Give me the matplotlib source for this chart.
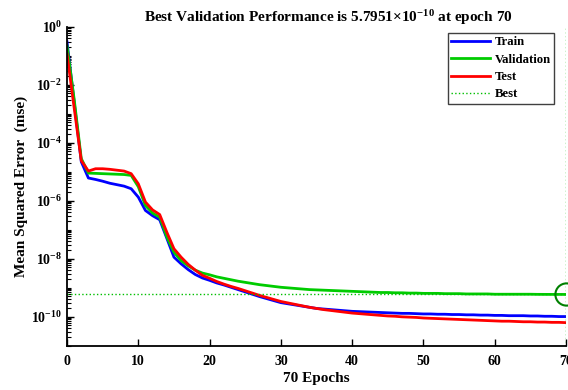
import numpy as np
import matplotlib
matplotlib.use("Agg")
import matplotlib.pyplot as plt
from matplotlib.ticker import LogLocator, FixedLocator, LogFormatterMathtext, NullFormatter

plt.rcParams['font.family'] = ['Liberation Serif', 'DejaVu Serif']
plt.rcParams['font.weight'] = 'bold'
plt.rcParams['mathtext.fontset'] = 'custom'
plt.rcParams['mathtext.rm'] = 'Liberation Serif:bold'
plt.rcParams['mathtext.bf'] = 'Liberation Serif:bold'
plt.rcParams['mathtext.it'] = 'Liberation Serif:bold:italic'

epochs = list(range(71))

train_log10 = [-0.52, -2.6, -4.66, -5.22, -5.27, -5.33, -5.4, -5.45, -5.5, -5.59,
               -5.88, -6.34, -6.52, -6.66, -7.3, -7.95, -8.18, -8.38, -8.55, -8.67,
               -8.75, -8.84, -8.91, -8.99, -9.07, -9.15, -9.23, -9.31, -9.38, -9.45,
               -9.52, -9.56, -9.60, -9.64, -9.68, -9.72, -9.74, -9.76, -9.78, -9.80,
               -9.82, -9.83, -9.84, -9.85, -9.86, -9.87, -9.88, -9.89, -9.89, -9.90,
               -9.91, -9.91, -9.92, -9.92, -9.93, -9.93, -9.94, -9.94, -9.95, -9.95,
               -9.96, -9.96, -9.97, -9.97, -9.97, -9.98, -9.98, -9.99, -9.99, -10.0,
               -10.0]
val_log10 = [-0.66, -2.5, -4.55, -5.05, -5.06, -5.07, -5.08, -5.09, -5.10, -5.13,
             -5.52, -6.17, -6.43, -6.57, -7.25, -7.78, -8.07, -8.25, -8.4, -8.5,
             -8.56, -8.63, -8.68, -8.73, -8.78, -8.82, -8.86, -8.90, -8.93, -8.96,
             -8.99, -9.01, -9.03, -9.05, -9.07, -9.08, -9.09, -9.10, -9.11, -9.12,
             -9.13, -9.14, -9.15, -9.16, -9.17, -9.17, -9.18, -9.18, -9.19, -9.19,
             -9.20, -9.20, -9.20, -9.21, -9.21, -9.21, -9.22, -9.22, -9.22, -9.22,
             -9.23, -9.23, -9.23, -9.23, -9.23, -9.23, -9.234, -9.235, -9.236, -9.236,
             -9.237]
test_log10 = [-0.94, -2.8, -4.62, -4.98, -4.9, -4.9, -4.92, -4.95, -4.98, -5.07,
              -5.42, -6.05, -6.32, -6.48, -7.09, -7.66, -7.95, -8.2, -8.4, -8.58,
              -8.68, -8.79, -8.88, -8.96, -9.03, -9.11, -9.19, -9.27, -9.34, -9.41,
              -9.48, -9.53, -9.58, -9.63, -9.68, -9.72, -9.76, -9.79, -9.82, -9.85,
              -9.88, -9.90, -9.92, -9.94, -9.96, -9.98, -9.99, -10.01, -10.02, -10.03,
              -10.05, -10.06, -10.07, -10.08, -10.09, -10.10, -10.11, -10.12, -10.13, -10.14,
              -10.15, -10.16, -10.16, -10.17, -10.18, -10.18, -10.19, -10.19, -10.20, -10.20,
              -10.21]

best_epoch = 70
best_perf = 5.7951e-10

train = 10.0 ** np.array(train_log10)
val = 10.0 ** np.array(val_log10)
test = 10.0 ** np.array(test_log10)

fig = plt.figure(figsize=(5.68, 3.90), dpi=100)
ax = fig.add_axes([0.118, 0.114, 0.8785, 0.8175])

ax.semilogy(epochs, train, color=(0, 0, 1), lw=2, label='Train')
ax.semilogy(epochs, val, color=(0, 0.8, 0), lw=2, label='Validation')
ax.semilogy(epochs, test, color=(1, 0, 0), lw=2, label='Test')
ax.plot([0, best_epoch], [best_perf, best_perf], ':', color=(0, 0.75, 0), lw=1, label='Best')
ax.plot([best_epoch, best_epoch], [1e-11, 1], ':', color=(0, 0.75, 0), lw=1)
ax.plot([best_epoch], [best_perf], 'o', ms=16, mfc='none', mec=(0, 0.5, 0), mew=1.5, clip_on=False)

ax.set_xlim(0, 70)
ax.set_ylim(1e-11, 1)
ax.xaxis.set_major_locator(FixedLocator([0, 10, 20, 30, 40, 50, 60, 70]))
ax.yaxis.set_major_locator(FixedLocator([1e-10, 1e-8, 1e-6, 1e-4, 1e-2, 1]))
ax.yaxis.set_major_formatter(LogFormatterMathtext())
ax.yaxis.set_minor_locator(LogLocator(base=10, subs=np.arange(1, 10), numticks=30))
ax.yaxis.set_minor_formatter(NullFormatter())

for s in ['top', 'right']:
    ax.spines[s].set_visible(False)
for s in ['left', 'bottom']:
    ax.spines[s].set_linewidth(1.3)

ax.tick_params(axis='both', which='major', direction='in', length=5, width=1, labelsize=10)
ax.tick_params(axis='x', which='major', pad=6.5)
ax.tick_params(axis='y', which='minor', direction='in', length=3, width=0.8)
for lab in ax.get_xticklabels() + ax.get_yticklabels():
    lab.set_fontweight('bold')

title = ax.set_title(r'Best Validation Performance is 5.7951$\times$10$^{-10}$ at epoch 70',
                     fontsize=11, fontweight='bold', pad=3)
title.set_x(0.523)
ax.set_xlabel('70 Epochs', fontsize=11, fontweight='bold', labelpad=3)
ax.set_ylabel('Mean Squared Error  (mse)', fontsize=11, fontweight='bold', labelpad=2)

leg = ax.legend(loc='upper right', bbox_to_anchor=(0.976, 0.98), borderaxespad=0,
                fancybox=False, edgecolor='#404040', framealpha=1,
                prop={'family': 'Liberation Serif', 'weight': 'bold', 'size': 9.2},
                handlelength=3.0, labelspacing=0.42, borderpad=0.25, handletextpad=0.4)
leg.get_frame().set_linewidth(1.0)

fig.savefig('out.png', dpi=100)
